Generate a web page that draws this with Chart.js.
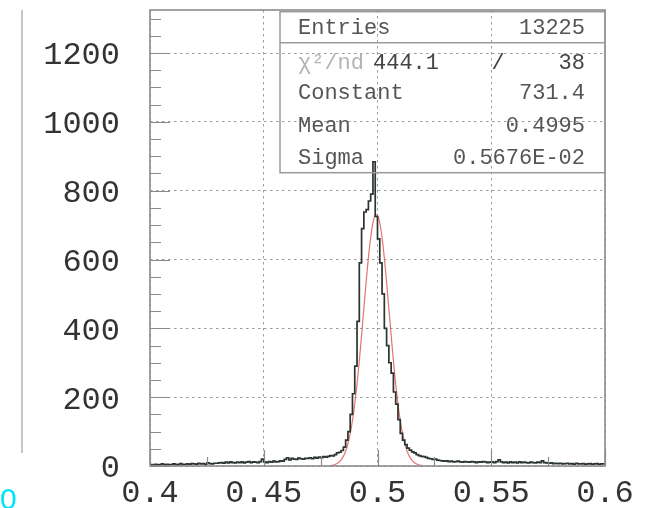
<!DOCTYPE html>
<html><head><meta charset="utf-8">
<script src="https://cdn.jsdelivr.net/npm/chart.js@4/dist/chart.umd.min.js"></script>
<style>
html,body{margin:0;padding:0;background:#fff;}
#wrap{position:relative;width:648px;height:508px;overflow:hidden;background:#fff;}
#c{position:absolute;left:0;top:0;}
#edge{position:absolute;left:21px;top:10px;width:2px;height:443px;background:#c6c6c6;}
#stray{position:absolute;left:0;top:484px;font:30px/30px "Liberation Sans",Arial,sans-serif;color:#00e5f5;}
</style></head><body>
<div id="wrap"><canvas id="c" width="648" height="508"></canvas><div id="edge"></div><div id="stray">0</div></div>
<script>
// ---- data ----
const binStart = 0.4;
const binWidth = 0.001;
const counts = [
  3,4,2,5,3,4,6,3,5,4, 4,6,5,3,7,5,4,6,5,7, 6,5,8,6,7,5,9,7,6,8,
  8,9,10,8,11,9,12,10,9,11, 10,12,9,11,13,10,12,11,10,13,
  20,12,10,13,11,14,12,13,15,14,
  19,24,18,22,20,19,23,21,20,22,
  22,24,21,25,23,26,24,27,26,28,30,29,33,38,
  40,45,55,75,100,150,210,290,420,590,690,738,745,770,790,884,
  725,660,590,500,400,350,300,270,215,180, 135,95,75,62,52,46,41,38,33,30, 28,27,25,22,21,19,20,17,16,15,
  14,15,13,14,12,13,14,12,11,13,
  12,11,13,12,10,12,11,13,12,10,
  11,12,10,13,18,12,10,11,9,12,
  10,11,9,12,10,11,10,9,11,10,
  9,11,10,15,10,9,8,9,7,8,
  7,8,6,7,8,6,7,5,8,6,
  6,7,5,6,7,5,6,7,5,6
];
const fitStart = 0.479;
const fitStep = 0.001;
const fitValues = [
  1.1,2.0,3.6,6.3,10.7,17.6,28.0,43.2,64.7,93.9,132.2,180.2,238.3,305.5,379.7,457.4,534.1,604.8,663.8,706.3,728.6,
  728.6,706.3,663.8,604.8,534.1,457.4,379.7,305.5,238.3,180.2,132.2,93.9,64.7,43.2,28.0,17.6,10.7,6.3,3.6,2.0,1.1
];
const xTickLabels = ['0.4','0.45','0.5','0.55','0.6'];
const yTickLabels = ['0','200','400','600','800','1000','1200'];
const statNames = ['Entries','χ²/nd','Constant','Mean','Sigma'];
const statValues = ['13225',['444.1','/','38'],'731.4','0.4995','0.5676E-02'];

// ---- build datasets ----
const histPts = counts.map((c,i)=>({x: binStart + i*binWidth, y: c}));
histPts.push({x: binStart + counts.length*binWidth, y: counts[counts.length-1]});
const fitPts = fitValues.map((v,i)=>({x: fitStart + i*fitStep, y: v}));

const frameAndStats = {
  id: 'frameAndStats',
  afterDraw(chart){
    const {ctx, chartArea:a, scales:{x, y}} = chart;
    ctx.save();
    // inward ticks
    ctx.strokeStyle = '#8a8a8a'; ctx.lineWidth = 1.2;
    ctx.beginPath();
    for (let v = 0; v <= 1300; v += 50){
      const py = Math.round(y.getPixelForValue(v)) + 0.5;
      const len = (v % 200 === 0) ? 20 : 11;
      ctx.moveTo(a.left, py); ctx.lineTo(a.left + len, py);
    }
    for (let k = 0; k <= 8; k++){
      const px = Math.round(x.getPixelForValue(0.4 + k*0.025)) + 0.5;
      const len = (k % 2 === 0) ? 16 : 9;
      ctx.moveTo(px, a.bottom); ctx.lineTo(px, a.bottom - len);
    }
    ctx.stroke();
    // frame
    ctx.strokeStyle = '#8c8c8c'; ctx.lineWidth = 1.6;
    ctx.strokeRect(a.left, a.top, a.right - a.left, a.bottom - a.top);
    // stats box
    const bx = a.left + 130, by = a.top + 1.7, bw = a.right - bx, bh = 161;
    ctx.strokeStyle = '#9a9a9a'; ctx.lineWidth = 1.5;
    ctx.strokeRect(bx, by, bw, bh);
    ctx.beginPath(); ctx.moveTo(bx, by + 31); ctx.lineTo(bx + bw, by + 31); ctx.stroke();
    const rows = [16.5, 51.5, 81.5, 114.5, 146.5];
    ctx.font = '22px "Liberation Mono", monospace';
    ctx.textBaseline = 'middle';
    statNames.forEach((name, i) => {
      const ty = by + rows[i];
      ctx.textAlign = 'left';
      ctx.fillStyle = (i === 1) ? '#b4b4b4' : '#555';
      ctx.fillText(name, bx + 18, ty);
      const val = statValues[i];
      ctx.fillStyle = '#555';
      if (Array.isArray(val)){
        ctx.fillStyle = '#444';
        ctx.textAlign = 'left'; ctx.fillText(val[0], bx + 93, ty);
        ctx.textAlign = 'center'; ctx.fillText(val[1], bx + 218, ty);
        ctx.textAlign = 'right'; ctx.fillText(val[2], bx + bw - 20, ty);
      } else {
        ctx.textAlign = 'right'; ctx.fillText(val, bx + bw - 20, ty);
      }
    });
    ctx.restore();
  }
};

new Chart(document.getElementById('c'), {
  type: 'line',
  data: {
    datasets: [
      { data: histPts, stepped: 'after', borderColor: '#2b342f', borderWidth: 1.7, pointRadius: 0, fill: false },
      { data: fitPts, borderColor: 'rgba(226,90,90,0.85)', borderWidth: 1.2, pointRadius: 0, tension: 0.3, fill: false }
    ]
  },
  options: {
    responsive: false,
    animation: false,
    events: [],
    layout: { padding: { top: 10, right: 43, left: 0, bottom: 0 } },
    plugins: { legend: { display: false }, tooltip: { enabled: false }, title: { display: false } },
    scales: {
      x: {
        type: 'linear', min: 0.4, max: 0.6,
        ticks: { stepSize: 0.05, padding: 8, color: '#333', font: { family: '"Liberation Mono", monospace', size: 32 },
                 callback: (v, i) => xTickLabels[i], maxRotation: 0, autoSkip: false },
        grid: { drawTicks: false, color: '#9c9c9c', lineWidth: 1 },
        border: { display: false, dash: [2.5, 3.5] },
        afterFit: s => { s.height = 42; s.paddingLeft = 0; s.paddingRight = 0; s.paddingTop = 0; s.paddingBottom = 0; }
      },
      y: {
        type: 'linear', min: 0, max: 1325,
        afterBuildTicks: s => { s.ticks = s.ticks.filter(t => t.value % 200 === 0); },
        ticks: { stepSize: 200, padding: 30, labelOffset: 3, color: '#333', font: { family: '"Liberation Mono", monospace', size: 32 },
                 callback: (v, i) => yTickLabels[i], autoSkip: false },
        grid: { drawTicks: false, color: '#9c9c9c', lineWidth: 1 },
        border: { display: false, dash: [2.5, 3.5] },
        afterFit: s => { s.width = 150; s.paddingLeft = 0; s.paddingRight = 0; s.paddingTop = 0; s.paddingBottom = 0; }
      }
    }
  },
  plugins: [frameAndStats]
});
</script>
</body></html>
